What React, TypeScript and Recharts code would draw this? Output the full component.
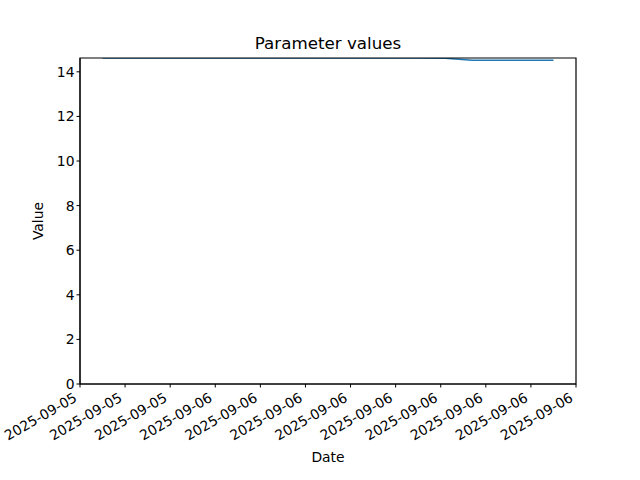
import { Line, LineChart, ReferenceArea, XAxis, YAxis } from 'recharts';

// position along the date axis (in tick steps) and the reading at that time
const times = [0.5, 2, 4, 6, 7.5, 8.1, 8.4, 8.7, 9.5, 10.5];
const values = [14.62, 14.62, 14.62, 14.62, 14.62, 14.61, 14.56, 14.52, 14.52, 14.52];
const tickPositions = [0, 1, 2, 3, 4, 5, 6, 7, 8, 9, 10, 11];
const tickLabels = [
  '2025-09-05', '2025-09-05', '2025-09-05',
  '2025-09-06', '2025-09-06', '2025-09-06', '2025-09-06', '2025-09-06',
  '2025-09-06', '2025-09-06', '2025-09-06', '2025-09-06',
];
const yTicks = [0, 2, 4, 6, 8, 10, 12, 14];

const data = times.map((t, i) => ({ t, value: values[i] }));

const FONT = 'DejaVu Sans, sans-serif';

const DateTick = ({ x, y, payload }: any) => {
  const label = tickLabels[tickPositions.indexOf(payload.value)] ?? '';
  const bx = x - 2;
  const by = y + 11;
  return (
    <text
      x={bx}
      y={by}
      transform={`rotate(-30, ${bx}, ${by})`}
      textAnchor="end"
      fontSize={13.9}
      fontFamily={FONT}
      fill="#000"
    >
      {label}
    </text>
  );
};

const App = () => {
  return (
    <div style={{ position: 'absolute', left: 0, top: 0, background: '#fff' }}>
      <LineChart
        width={640}
        height={480}
        data={data}
        margin={{ top: 58, right: 64, bottom: 0, left: 0 }}
      >
        <text x={328} y={49} textAnchor="middle" fontSize={16.7} fontFamily={FONT} fill="#000">
          Parameter values
        </text>
        <text x={328} y={462} textAnchor="middle" fontSize={13.9} fontFamily={FONT} fill="#000">
          Date
        </text>
        <text
          x={43}
          y={221}
          transform="rotate(-90, 43, 221)"
          textAnchor="middle"
          fontSize={13.9}
          fontFamily={FONT}
          fill="#000"
        >
          Value
        </text>
        <XAxis
          dataKey="t"
          type="number"
          domain={[0, 11]}
          ticks={tickPositions}
          interval={0}
          height={96}
          tickSize={3.5}
          axisLine={{ stroke: '#000' }}
          tickLine={{ stroke: '#000' }}
          tick={<DateTick />}
        />
        <XAxis
          xAxisId="top"
          orientation="top"
          dataKey="t"
          type="number"
          domain={[0, 11]}
          height={0}
          tick={false}
          tickLine={false}
          axisLine={{ stroke: '#000', strokeWidth: 1.2 }}
        />
        <YAxis
          type="number"
          domain={[0, 14.62]}
          ticks={yTicks}
          allowDataOverflow
          width={80}
          tickSize={3.5}
          axisLine={{ stroke: '#000' }}
          tickLine={{ stroke: '#000' }}
          tick={{ fill: '#000', fontSize: 13.9, fontFamily: FONT }}
        />
        <YAxis
          yAxisId="right"
          orientation="right"
          type="number"
          domain={[0, 14.62]}
          width={0}
          tick={false}
          tickLine={false}
          axisLine={{ stroke: '#000' }}
        />
        <Line
          type="linear"
          dataKey="value"
          stroke="#1f77b4"
          strokeWidth={1.5}
          dot={false}
          isAnimationActive={false}
        />
        <ReferenceArea
          x1={0}
          x2={11}
          y1={0}
          y2={14.62}
          fill="none"
          stroke="#000"
          strokeWidth={1.2}
          zIndex={1000}
        />
      </LineChart>
    </div>
  );
};

export default App;
